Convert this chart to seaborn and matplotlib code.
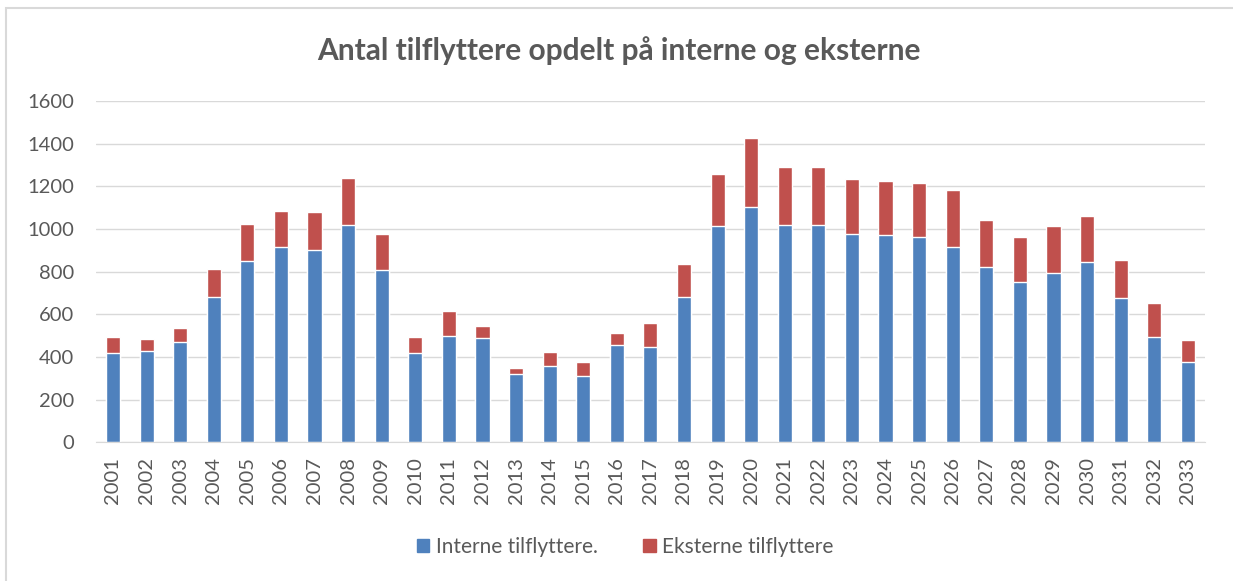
import pandas as pd
import numpy as np
import matplotlib
matplotlib.use("Agg")
import matplotlib.pyplot as plt
import seaborn as sns
from matplotlib.patches import Patch

# data
years = [str(y) for y in range(2001, 2034)]
interne = [416, 427, 471, 680, 848, 915, 902, 1017, 807, 416,
           500, 490, 321, 357, 308, 454, 446, 680, 1012, 1101,
           1017, 1017, 976, 970, 963, 915, 820, 752, 795, 843,
           676, 494, 378]
total = [494, 482, 536, 813, 1024, 1084, 1078, 1240, 976, 494,
         615, 543, 350, 421, 378, 511, 561, 837, 1259, 1428,
         1289, 1293, 1234, 1223, 1217, 1181, 1042, 963, 1012, 1059,
         856, 651, 477]
eksterne = [t - i for t, i in zip(total, interne)]

df = pd.DataFrame({"Aar": years, "Interne": interne, "Eksterne": eksterne})
df["Total"] = df["Interne"] + df["Eksterne"]

blue = "#4F81BD"
red = "#C0504D"
txt = "#595959"

sns.set_style("white")
plt.rcParams["font.family"] = ["Lato", "DejaVu Sans"]

fig = plt.figure(figsize=(12.33, 5.81), dpi=100)
ax = fig.add_axes([0.078, 0.239, 0.899, 0.587])

# stacked bars: total in red, internal in blue on top of it
sns.barplot(data=df, x="Aar", y="Total", color=red, width=0.42, ax=ax, saturation=1)
sns.barplot(data=df, x="Aar", y="Interne", color=blue, width=0.42, ax=ax, saturation=1)

ax.set_ylim(0, 1600)
ax.set_xlim(-0.5, len(years) - 0.5)
ax.set_yticks(range(0, 1601, 200))
ax.yaxis.grid(True, color="#D9D9D9", linewidth=1)
ax.set_axisbelow(True)
for s in ["top", "right", "left"]:
    ax.spines[s].set_visible(False)
ax.spines["bottom"].set_color("#D9D9D9")
ax.set_xlabel("")
ax.set_ylabel("")
ax.tick_params(axis="y", length=0, labelsize=14.5, labelcolor=txt, pad=16)
ax.tick_params(axis="x", length=0, labelsize=14.5, labelcolor=txt, labelrotation=90, pad=11)

fig.suptitle("Antal tilflyttere opdelt på interne og eksterne", x=0.502, y=0.913,
             va="center", fontsize=21.5, fontweight="bold", color=txt)

handles = [Patch(color=blue, label="Interne tilflyttere."),
           Patch(color=red, label="Eksterne tilflyttere")]
fig.legend(handles=handles, loc="center", bbox_to_anchor=(0.507, 0.059), ncol=2,
           frameon=False, fontsize=15, handlelength=0.6, handleheight=0.6,
           handletextpad=0.3, columnspacing=2.2, labelcolor=txt)

# light chart frame (left and top edges visible in the reference)
fig.patches.append(plt.Rectangle((0.005, -0.05), 1.1, 1.036, transform=fig.transFigure,
                                 fill=False, edgecolor="#D9D9D9", linewidth=1.5))

fig.savefig("out.png", dpi=100)
